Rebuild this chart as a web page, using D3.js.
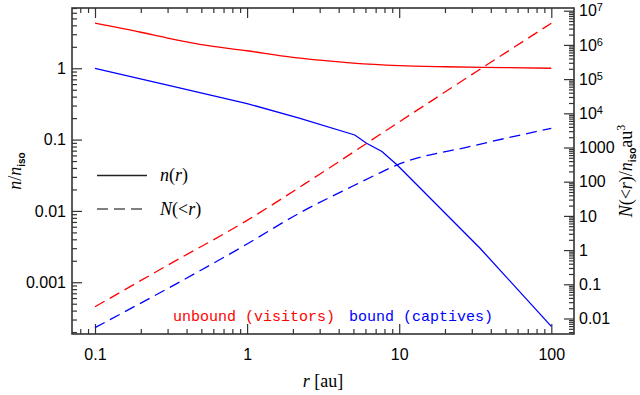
<!DOCTYPE html>
<html>
<head>
<meta charset="utf-8">
<script src="https://cdn.jsdelivr.net/npm/d3@7"></script>
<style>
  body { margin: 0; background: #fff; }
  svg text { font-family: "Liberation Sans", Arial, sans-serif; fill: #000; }
  .serif { font-family: "Liberation Serif", "DejaVu Serif", serif; }
  .mono { font-family: "Liberation Mono", monospace; }
</style>
</head>
<body>
<div id="chart"></div>
<script>
// unbound (visitors) density n/n_iso
const unboundDensityR = [0.1, 0.2, 0.3, 0.5, 1, 2, 3, 5, 10, 20, 50, 100];
const unboundDensity = [4.3, 3.2, 2.65, 2.15, 1.76, 1.42, 1.3, 1.18, 1.09, 1.05, 1.02, 1.0];

// bound (captives) density n/n_iso
const boundDensityR = [0.1, 0.3, 1, 2.2, 5.1, 6.1, 7.7, 9.7, 34, 100];
const boundDensity = [1.0, 0.58, 0.32, 0.2, 0.116, 0.089, 0.068, 0.044, 0.003, 0.00024];

// cumulative counts N(<r)/n_iso au^3 (right axis)
const unboundCountR = [0.1, 0.3, 1, 3, 10, 30, 100];
const unboundCount = [0.022, 0.36, 7.4, 166, 5600, 1.35e5, 4.3e6];
const boundCountR = [0.1, 1, 2.2, 5, 7, 9.7, 30, 100];
const boundCount = [0.0054, 1.51, 12, 76, 158, 309, 1100, 3630];

const xMajor = [0.1, 1, 10, 100];
const yLeftMajor = [0.001, 0.01, 0.1, 1];
const yRightMajor = [0.01, 0.1, 1, 10, 100, 1000, 1e4, 1e5, 1e6, 1e7];

const W = 640, H = 395;
const margin = {top: 8, right: 66, bottom: 61, left: 72};
const width = W - margin.left - margin.right;
const height = H - margin.top - margin.bottom;

const svg = d3.select('#chart').append('svg')
  .attr('width', W)
  .attr('height', H);

const chart = svg.append('g')
  .attr('transform', `translate(${margin.left},${margin.top})`);

const x = d3.scaleLog().domain([0.0706, 141]).range([0, width]);
const yL = d3.scaleLog().domain([1.88e-4, 7.0]).range([height, 0]);
const yR = d3.scaleLog().domain([3.52e-3, 1.2e7]).range([height, 0]);

// minor ticks 2..9 in each decade inside a domain
function minorTicks(scale) {
  const [a, b] = scale.domain();
  const out = [];
  for (let e = Math.floor(Math.log10(a)); e <= Math.ceil(Math.log10(b)); e++) {
    for (let k = 2; k <= 9; k++) {
      const v = k * Math.pow(10, e);
      if (v >= a && v <= b) out.push(v);
    }
  }
  return out;
}

const axisColor = '#333';
function styleAxis(g) {
  g.select('.domain').remove();
  g.selectAll('line').attr('stroke', axisColor).attr('stroke-width', 1.2);
  g.selectAll('text').attr('font-size', 16).attr('fill', '#000');
}

// bottom + top
chart.append('g').attr('transform', `translate(0,${height})`)
  .call(d3.axisBottom(x).tickValues(xMajor).tickFormat(d3.format('~g')).tickSize(-10).tickPadding(15))
  .call(styleAxis);
chart.append('g').attr('transform', `translate(0,${height})`)
  .call(d3.axisBottom(x).tickValues(minorTicks(x)).tickFormat('').tickSize(-5))
  .call(styleAxis);
chart.append('g')
  .call(d3.axisTop(x).tickValues(xMajor).tickFormat('').tickSize(-10))
  .call(styleAxis);
chart.append('g')
  .call(d3.axisTop(x).tickValues(minorTicks(x)).tickFormat('').tickSize(-5))
  .call(styleAxis);

// left
chart.append('g')
  .call(d3.axisLeft(yL).tickValues(yLeftMajor).tickFormat(d3.format('~g')).tickSize(-10).tickPadding(6))
  .call(styleAxis);
chart.append('g')
  .call(d3.axisLeft(yL).tickValues(minorTicks(yL)).tickFormat('').tickSize(-5))
  .call(styleAxis);

// right
const rightAxisG = chart.append('g').attr('transform', `translate(${width},0)`)
  .call(d3.axisRight(yR).tickValues(yRightMajor).tickFormat(d3.format('~g')).tickSize(-10).tickPadding(5))
  .call(styleAxis);
chart.append('g').attr('transform', `translate(${width},0)`)
  .call(d3.axisRight(yR).tickValues(minorTicks(yR)).tickFormat('').tickSize(-5))
  .call(styleAxis);

// powers of ten as 10^n on the right axis
rightAxisG.selectAll('.tick text').each(function(d) {
  const e = Math.round(Math.log10(d));
  if (e >= 4) {
    const t = d3.select(this).text('10');
    t.append('tspan').attr('dy', '-0.45em').attr('font-size', 11).text(e);
  }
});

// frame
chart.append('rect')
  .attr('width', width).attr('height', height)
  .attr('fill', 'none').attr('stroke', axisColor).attr('stroke-width', 1.6);

// curves
const smoothL = d3.line().x(d => x(d[0])).y(d => yL(d[1])).curve(d3.curveMonotoneX);
const sharpL = d3.line().x(d => x(d[0])).y(d => yL(d[1]));
const smoothR = d3.line().x(d => x(d[0])).y(d => yR(d[1])).curve(d3.curveMonotoneX);
const zip = (a, b) => a.map((v, i) => [v, b[i]]);

const series = [
  {pts: zip(unboundDensityR, unboundDensity), gen: smoothL, color: 'red', dash: null},
  {pts: zip(boundDensityR, boundDensity), gen: sharpL, color: 'blue', dash: null},
  {pts: zip(unboundCountR, unboundCount), gen: smoothR, color: 'red', dash: '11,6'},
  {pts: zip(boundCountR, boundCount), gen: smoothR, color: 'blue', dash: '11,6'}
];

chart.selectAll('.curve')
  .data(series)
  .join('path')
  .attr('class', 'curve')
  .attr('fill', 'none')
  .attr('stroke', d => d.color)
  .attr('stroke-width', 1.3)
  .attr('stroke-dasharray', d => d.dash)
  .attr('d', d => d.gen(d.pts));

// legend
const legend = svg.append('g');
legend.append('line').attr('x1', 97).attr('x2', 147).attr('y1', 175.5).attr('y2', 175.5)
  .attr('stroke', '#222').attr('stroke-width', 1.3);
legend.append('line').attr('x1', 97).attr('x2', 147).attr('y1', 209).attr('y2', 209)
  .attr('stroke', '#555').attr('stroke-width', 1.3).attr('stroke-dasharray', '11,6');

const t1 = legend.append('text').attr('class', 'serif').attr('x', 160).attr('y', 181).attr('font-size', 18);
t1.append('tspan').attr('font-style', 'italic').text('n');
t1.append('tspan').text('(');
t1.append('tspan').attr('font-style', 'italic').text('r');
t1.append('tspan').text(')');

const t2 = legend.append('text').attr('class', 'serif').attr('x', 160).attr('y', 215).attr('font-size', 18);
t2.append('tspan').attr('font-style', 'italic').text('N');
t2.append('tspan').text('(<');
t2.append('tspan').attr('font-style', 'italic').text('r');
t2.append('tspan').text(')');

// population labels
svg.append('text').attr('class', 'mono').attr('x', 173).attr('y', 321)
  .attr('font-size', 15).style('fill', 'red').text('unbound (visitors)');
svg.append('text').attr('class', 'mono').attr('x', 349).attr('y', 321)
  .attr('font-size', 15).style('fill', 'blue').text('bound (captives)');

// axis titles
const xt = svg.append('text').attr('class', 'serif')
  .attr('x', margin.left + width / 2).attr('y', 387)
  .attr('text-anchor', 'middle').attr('font-size', 18);
xt.append('tspan').attr('font-style', 'italic').text('r');
xt.append('tspan').text(' [au]');

const ylt = svg.append('text').attr('class', 'serif')
  .attr('transform', `translate(21,${margin.top + height / 2}) rotate(-90)`)
  .attr('text-anchor', 'middle').attr('font-size', 18);
ylt.append('tspan').attr('font-style', 'italic').text('n');
ylt.append('tspan').text('/');
ylt.append('tspan').attr('font-style', 'italic').text('n');
ylt.append('tspan').attr('dy', 4).attr('font-size', 10).attr('font-weight', 'bold')
  .style('font-family', '"Liberation Sans", Arial, sans-serif').text('iso');

const yrt = svg.append('text').attr('class', 'serif')
  .attr('transform', `translate(632,${margin.top + height / 2}) rotate(-90)`)
  .attr('text-anchor', 'middle').attr('font-size', 18);
yrt.append('tspan').attr('font-style', 'italic').text('N');
yrt.append('tspan').text('(<');
yrt.append('tspan').attr('font-style', 'italic').text('r');
yrt.append('tspan').text(')/');
yrt.append('tspan').attr('font-style', 'italic').text('n');
yrt.append('tspan').attr('dy', 4).attr('font-size', 10).attr('font-weight', 'bold')
  .style('font-family', '"Liberation Sans", Arial, sans-serif').text('iso');
yrt.append('tspan').attr('dy', -4).text('au');
yrt.append('tspan').attr('dy', -7).attr('font-size', 12).text('3');
</script>
</body>
</html>
